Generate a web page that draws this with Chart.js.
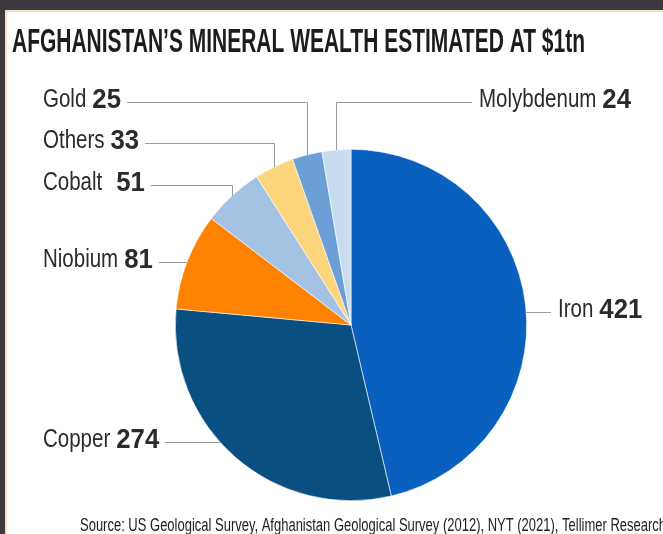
<!DOCTYPE html>
<html>
<head>
<meta charset="utf-8">
<script src="https://cdn.jsdelivr.net/npm/chart.js@4.4.1/dist/chart.umd.min.js"></script>
<style>
  html, body { margin:0; padding:0; background:#3d383e; overflow:hidden; }
  #panel { position:absolute; left:5px; top:10px; width:680px; height:560px;
           background:#fff; border-left:2px solid #f8dfc6; border-top:2px solid #f8dfc6; }
  #chart { position:absolute; left:0; top:0; }
</style>
</head>
<body>
<div id="panel"></div>
<canvas id="chart" width="663" height="534"></canvas>
<script>
// mineral deposits, $bn
const minerals = ['Iron', 'Copper', 'Niobium', 'Cobalt', 'Others', 'Gold', 'Molybdenum'];
const values = [421, 274, 81, 51, 33, 25, 24];
const colors = ['#0a60be', '#0a4f82', '#ff8300', '#a4c3e4', '#fcd57d', '#6c9fd5', '#c8dcef'];

const TITLE = 'AFGHANISTAN\u2019S MINERAL WEALTH ESTIMATED AT $1tn';
const SOURCE = 'Source: US Geological Survey, Afghanistan Geological Survey (2012), NYT (2021), Tellimer Research';

// where each callout sits; bend = run across then drop to the slice
const callouts = [
  { side:'right', x:558, y:310 },
  { side:'left',  x:43,  y:440 },
  { side:'left',  x:43,  y:260 },
  { side:'left',  x:43,  y:183, bend:true, gap:14 },
  { side:'left',  x:43,  y:141, bend:true },
  { side:'left',  x:43,  y:100, bend:true },
  { side:'right', x:479, y:100, bend:true }
];

const NAME_FONT = '25px "Liberation Sans", sans-serif';
const NAME_SX = 0.82;
const VAL_FONT = 'bold 28px "Liberation Sans", sans-serif';
const VAL_SX = 0.92;

// squeeze a string into a given width
function fitText(ctx, text, x, y, font, width) {
  ctx.save();
  ctx.font = font;
  const w = ctx.measureText(text).width;
  ctx.translate(x, y);
  ctx.scale(width / w, 1);
  ctx.fillText(text, 0, 0);
  ctx.restore();
}

// draw with a fixed horizontal squeeze, return drawn width
function narrowText(ctx, text, x, y, font, sx) {
  ctx.save();
  ctx.font = font;
  const w = ctx.measureText(text).width * sx;
  ctx.translate(x, y);
  ctx.scale(sx, 1);
  ctx.fillText(text, 0, 0);
  ctx.restore();
  return w;
}

const calloutPlugin = {
  id: 'callouts',
  afterDraw(chart) {
    const ctx = chart.ctx;
    const arcs = chart.getDatasetMeta(0).data;

    ctx.save();
    ctx.fillStyle = '#1c1c1c';
    ctx.textBaseline = 'alphabetic';
    fitText(ctx, TITLE, 12, 52, 'bold 33px "Liberation Sans Narrow", "Liberation Sans", sans-serif', 573);
    ctx.fillStyle = '#222';
    fitText(ctx, SOURCE, 80, 531, '18px "Liberation Sans", sans-serif', 586);

    ctx.textBaseline = 'middle';
    ctx.strokeStyle = '#9a9a9a';
    ctx.lineWidth = 1;
    arcs.forEach((arc, i) => {
      const c = callouts[i];
      const gap = c.gap || 6;
      ctx.fillStyle = '#2b2b2b';
      const nw = narrowText(ctx, minerals[i], c.x, c.y, NAME_FONT, NAME_SX);
      const vw = narrowText(ctx, String(values[i]), c.x + nw + gap, c.y, VAL_FONT, VAL_SX);

      const ly = c.y + 2.5;
      const r = arc.outerRadius;
      const mid = (arc.startAngle + arc.endAngle) / 2;
      const startX = c.side === 'left' ? c.x + nw + gap + vw + 6 : c.x - 7;
      ctx.beginPath();
      ctx.moveTo(startX, ly);
      if (c.bend) {
        const ex = Math.round(arc.x + r * Math.cos(mid)) + 0.5;
        const ey = arc.y + r * Math.sin(mid);
        ctx.lineTo(ex, ly);
        ctx.lineTo(ex, ey);
      } else {
        const dx = Math.sqrt(Math.max(r * r - (ly - arc.y) * (ly - arc.y), 0));
        ctx.lineTo(c.side === 'left' ? arc.x - dx : arc.x + dx, ly);
      }
      ctx.stroke();
    });
    ctx.restore();
  }
};

new Chart(document.getElementById('chart'), {
  type: 'pie',
  data: {
    labels: minerals,
    datasets: [{
      data: values,
      backgroundColor: colors,
      borderColor: '#ffffff',
      borderWidth: 0.6
    }]
  },
  options: {
    responsive: false,
    animation: false,
    layout: { padding: { left: 175, right: 136, top: 149, bottom: 33 } },
    plugins: { legend: { display: false }, tooltip: { enabled: false } }
  },
  plugins: [calloutPlugin]
});
</script>
</body>
</html>
